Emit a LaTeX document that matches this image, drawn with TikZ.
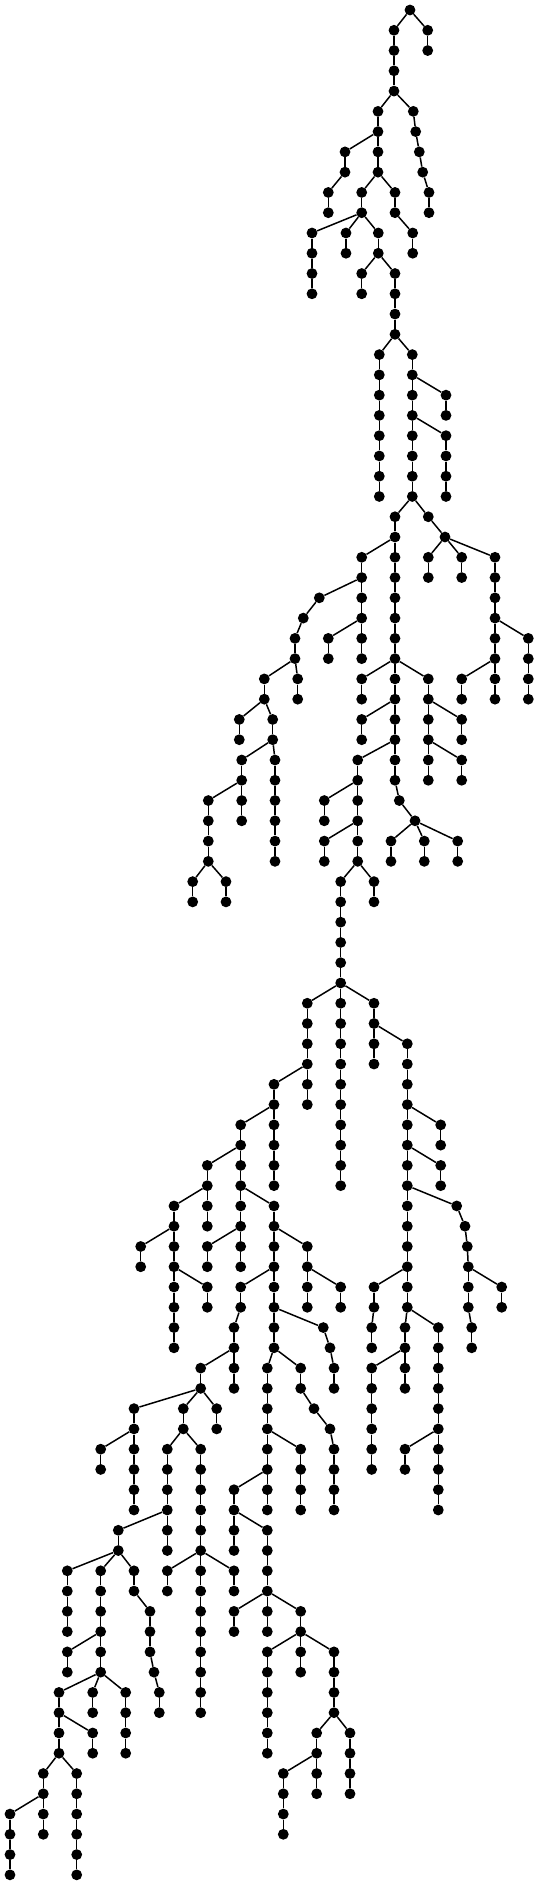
\documentclass[tikz,border=0pt]{standalone}
\usepackage{tikz}
\tikzset{
  v/.style={circle, fill=black, draw=none, inner sep=0pt, minimum size=10.8pt},
  e/.style={line width=1.5pt, black}
}
% chain with constant x: prefix, parent, from level, to level, x
\newcommand\ch[5]{%
  \xdef\prv{#2}%
  \foreach \lv in {#3,...,#4}{%
    \node[v] (#1\lv) at (#5,{-10-20.27*\lv}) {};
    \draw[e] (\prv) -- (#1\lv);
    \xdef\prv{#1\lv}%
  }%
}
% chain with listed x: prefix, parent, start level, list of x
\newcommand\chx[4]{%
  \xdef\prv{#2}%
  \foreach \xx [count=\i from 0] in {#4}{%
    \pgfmathtruncatemacro\lv{#3+\i}%
    \node[v] (#1\lv) at (\xx,{-10-20.27*\lv}) {};
    \draw[e] (\prv) -- (#1\lv);
    \xdef\prv{#1\lv}%
  }%
}
\begin{document}
\begin{tikzpicture}[x=1pt,y=1pt]
\useasboundingbox (0,0) rectangle (539,-1885);
\node[v] (r) at (410,-10) {};
\ch{A}{r}{1}{4}{394}
\ch{B}{r}{1}{2}{427.7}
\ch{C}{A4}{5}{6}{378}
\chx{D}{A4}{5}{413.3,415.7,419.3,422.7,429,429}
\chx{E}{C6}{7}{345,345,328.3,328.3}
\ch{F}{C6}{7}{8}{378}
\ch{H}{F8}{9}{10}{361.7}
\chx{I}{F8}{9}{395,395,412.7,412.7}
\ch{J}{H10}{11}{14}{312}
\ch{K}{H10}{11}{12}{346}
\ch{L}{H10}{11}{12}{378.3}
\ch{M}{L12}{13}{14}{361.7}
\ch{N}{L12}{13}{16}{395}
\ch{O}{N16}{17}{24}{379.3}
\ch{P}{N16}{17}{24}{412.3}
\ch{Q}{P18}{19}{20}{446}
\ch{S}{P20}{21}{24}{446}
\chx{T}{P24}{25}{395,395,395,395,395,395,395,395,395,395,395,395,395,395,399.3}
\ch{U}{P24}{25}{25}{428.3}
\ch{V}{U25}{26}{26}{445}
\ch{Va}{V26}{27}{28}{428.3}
\ch{Vb}{V26}{27}{28}{461.7}
\ch{X}{V26}{27}{34}{495}
\ch{AA}{X30}{31}{34}{528.3}
\ch{FF}{X32}{33}{34}{461.7}
\ch{W}{T26}{27}{32}{361.7}
\chx{Y}{W28}{29}{319.3,303.3,295,295}
\ch{Z}{W30}{31}{32}{328.3}
\ch{BB}{Y32}{33}{34}{264.3}
\ch{CC}{Y32}{33}{34}{297.7}
\ch{GG}{BB34}{35}{36}{239.3}
\chx{HH}{BB34}{35}{272.7,272.7,275,275,275,275,275,275}
\ch{KK}{HH36}{37}{40}{241.7}
\ch{NN}{KK38}{39}{42}{208.3}
\ch{UU}{NN42}{43}{44}{192.7}
\ch{VV}{NN42}{43}{44}{226}
\ch{DD}{T32}{33}{34}{361.7}
\ch{EE}{T32}{33}{38}{428.3}
\ch{JJ}{EE34}{35}{36}{461.7}
\ch{MM}{EE36}{37}{38}{461.7}
\ch{II}{T34}{35}{36}{361.7}
\ch{LL}{T36}{37}{42}{357.7}
\ch{OO}{LL38}{39}{40}{324.3}
\ch{QQ}{LL40}{41}{42}{324.3}
\ch{PP}{T39}{40}{40}{415}
\ch{RR}{PP40}{41}{42}{391}
\ch{SS}{PP40}{41}{42}{424.3}
\ch{TT}{PP40}{41}{42}{457.7}
\ch{WW}{LL42}{43}{48}{340.7}
\ch{XX}{LL42}{43}{44}{374}
\ch{AB}{WW48}{49}{54}{307.3}
\ch{AC}{WW48}{49}{58}{340.7}
\ch{AD}{WW48}{49}{52}{374}
\chx{AE}{AD50}{51}{407.3,407.3,407.3,407.3,407.3,407.3,407.3,407.3,407.3,407.3,407.3,407.3,407.3,407.3,405,405,405,405}
\ch{AH}{AE54}{55}{56}{440.7}
\ch{AJ}{AE56}{57}{58}{440.7}
\chx{AM}{AE58}{59}{456.7,465,467.3,468.3,468.3,468.3,471.7,471.7}
\ch{AU}{AM62}{63}{64}{501.7}
\chx{AT}{AE62}{63}{374,374,371.7,371.7}
\ch{AW}{AE64}{65}{74}{438.3}
\ch{BI}{AW70}{71}{72}{405}
\ch{BA}{AE66}{67}{72}{371.7}
\ch{AF}{AB52}{53}{58}{274}
\ch{AG}{AF54}{55}{62}{240.7}
\ch{AI}{AG56}{57}{60}{207.3}
\ch{AK}{AI58}{59}{66}{174}
\ch{AN}{AK60}{61}{62}{140.7}
\ch{AQ}{AK62}{63}{64}{207.3}
\ch{AO}{AG60}{61}{62}{207.3}
\ch{AL}{AG58}{59}{66}{274}
\ch{AP}{AL60}{61}{64}{307.3}
\ch{AS}{AP62}{63}{64}{340.7}
\chx{AR}{AL62}{63}{240.7,240.7,234,234,234,234}
\chx{AV}{AL64}{65}{323.3,330,334,334}
\ch{AY}{AL66}{67}{74}{267.3}
\chx{AZ}{AL66}{67}{300.7,300.7,314,330,334,334,334,334}
\ch{AX}{AR66}{67}{68}{200.7}
\ch{Ba}{AX68}{69}{74}{134}
\ch{BE}{Ba70}{71}{72}{100.7}
\ch{BC}{AX68}{69}{70}{183.3}
\ch{BD}{AX68}{69}{70}{216.7}
\ch{BF}{BC70}{71}{76}{167.3}
\ch{BG}{BC70}{71}{84}{200.7}
\ch{BK}{BF74}{75}{76}{118.3}
\ch{BM}{BK76}{77}{80}{67.3}
\ch{BN}{BK76}{77}{82}{100.7}
\chx{BO}{BK76}{77}{134,134,150,150,150,154,159.3,159.3}
\ch{BP}{BG76}{77}{78}{167.3}
\ch{BQ}{BG76}{77}{78}{234}
\ch{BH}{AY70}{71}{74}{300.7}
\ch{BJ}{AY72}{73}{76}{234}
\ch{BL}{BJ74}{75}{80}{267.3}
\ch{BR}{BL78}{79}{80}{234}
\ch{BS}{BL78}{79}{82}{300.7}
\ch{BU}{BS80}{81}{86}{267.3}
\ch{BV}{BS80}{81}{84}{334}
\ch{CB}{BV84}{85}{88}{316.7}
\ch{Cc}{BV84}{85}{88}{350}
\ch{CF}{CB86}{87}{90}{283.3}
\ch{BW}{BN80}{81}{82}{67.3}
\ch{BX}{BN82}{83}{86}{59}
\ch{BY}{BN82}{83}{84}{92.7}
\ch{BZ}{BN82}{83}{86}{125.7}
\ch{CA}{BX84}{85}{86}{92.7}
\ch{CD}{BX86}{87}{90}{43.3}
\ch{CE}{BX86}{87}{92}{76.7}
\ch{CG}{CD88}{89}{92}{10}
\end{tikzpicture}
\end{document}
